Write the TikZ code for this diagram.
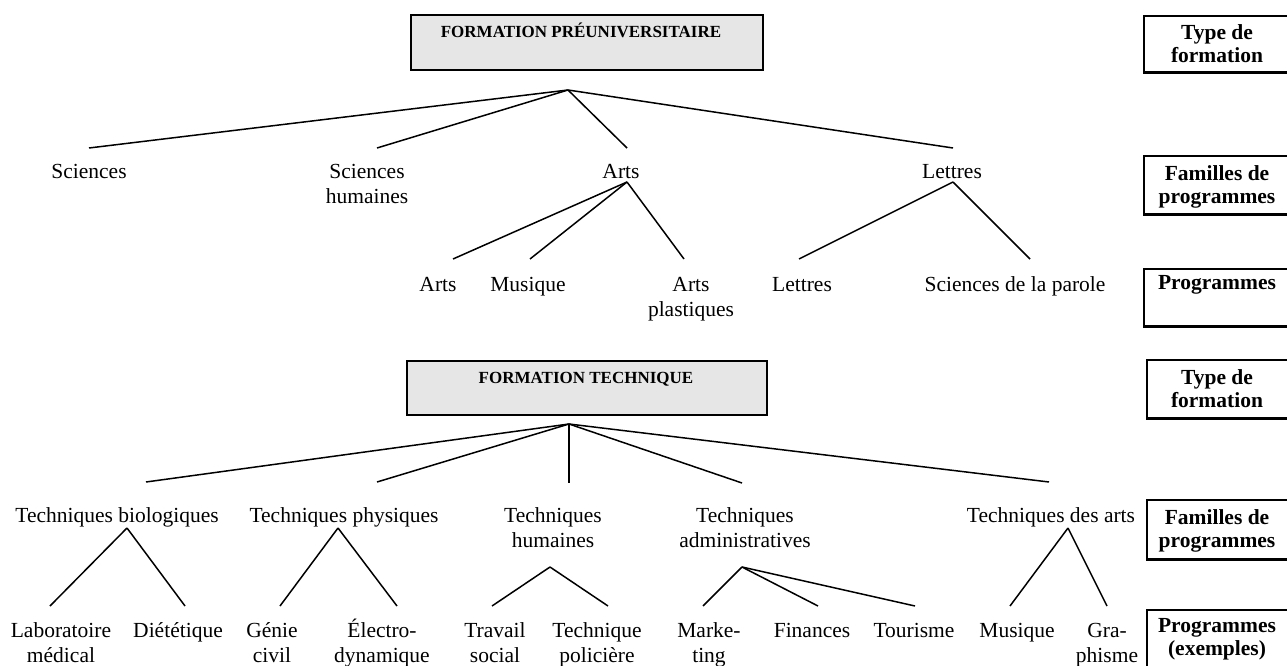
\documentclass[tikz,border=0pt]{standalone}
\usepackage{fontspec}
\setmainfont{Liberation Serif}
\definecolor{boxgray}{HTML}{E6E6E6}
\newcommand{\twoline}[2]{\begin{tabular}[t]{@{}c@{}}#1\\#2\end{tabular}}
\tikzset{
  lab/.style={anchor=base, inner sep=0pt, font=\fontsize{21.5}{25.5}\selectfont},
  head/.style={anchor=base, inner sep=0pt, font=\fontsize{17}{20}\selectfont\bfseries},
  sidelab/.style={anchor=base, inner sep=0pt, font=\fontsize{21.5}{23}\selectfont\bfseries},
  conn/.style={line width=1.5pt},
  graybox/.style={draw, line width=2pt, fill=boxgray, anchor=north west, inner sep=0pt},
  sidebox/.style={draw, line width=1.6pt, anchor=north west, inner sep=0pt, minimum width=148pt},
}
\begin{document}
\begin{tikzpicture}[x=1pt,y=-1pt]
\useasboundingbox (0,0) rectangle (1287,666);
\begin{scope}
\clip (0,0) rectangle (1287,666);
% ---------- gray title boxes ----------
\node[graybox, minimum width=352pt, minimum height=55pt] (preBox) at (410,14) {};
\node[head] (preTitle) at (581,38) {FORMATION PRÉUNIVERSITAIRE};
\node[graybox, minimum width=360pt, minimum height=54pt] (tecBox) at (406,360) {};
\node[head] (tecTitle) at (586,383) {FORMATION TECHNIQUE};
% ---------- side boxes ----------
\node[sidebox, minimum height=56pt] (sb1) at (1143,15) {};
\node[sidebox, minimum height=58pt] (sb2) at (1143,155) {};
\node[sidebox, minimum height=57pt] (sb3) at (1143,268) {};
\node[sidebox, minimum height=58pt] (sb4) at (1146,359) {};
\node[sidebox, minimum height=59pt] (sb5) at (1146,499) {};
\node[sidebox, minimum height=58pt] (sb6) at (1146,609) {};
\foreach \b in {sb1,sb2,sb3,sb4,sb5,sb6}
  \draw[line width=2.8pt] (\b.south west) -- (\b.south east);
\end{scope}
\node[sidelab] (sl1) at (1217,40) {\twoline{Type de}{formation}};
\node[sidelab] (sl2) at (1217,180) {\twoline{Familles de}{programmes}};
\node[sidelab] (sl3) at (1217,289) {Programmes};
\node[sidelab] (sl4) at (1217,384) {\twoline{Type de}{formation}};
\node[sidelab] (sl5) at (1217,524) {\twoline{Familles de}{programmes}};
\node[sidelab] (sl6) at (1217,632) {\twoline{Programmes}{(exemples)}};
% ---------- top tree ----------
\node[lab] (sci) at (89,178) {Sciences};
\node[lab] (sh) at (367,178) {\twoline{Sciences}{humaines}};
\node[lab] (arts) at (621,178) {Arts};
\node[lab] (let) at (952,178) {Lettres};
\node[lab] (pArts) at (438,291) {Arts};
\node[lab] (pMus) at (528,291) {Musique};
\node[lab] (pAP) at (691,291) {\twoline{Arts}{plastiques}};
\node[lab] (pLet) at (802,291) {Lettres};
\node[lab] (pSdlp) at (1015,291) {Sciences de la parole};
\coordinate (preApex) at (568,90);
\coordinate (eSci) at (89,148);
\coordinate (eSH) at (377,148);
\coordinate (eArts) at (627,148);
\coordinate (eLet) at (953,148);
\coordinate (artsApex) at (627,182);
\coordinate (fArts) at (453,259);
\coordinate (fMus) at (530,259);
\coordinate (fAP) at (684,259);
\coordinate (letApex) at (953,182);
\coordinate (fLet) at (799,259);
\coordinate (fSdlp) at (1030,259);
\draw[conn] (preApex) -- (eSci);
\draw[conn] (preApex) -- (eSH);
\draw[conn] (preApex) -- (eArts);
\draw[conn] (preApex) -- (eLet);
\draw[conn] (artsApex) -- (fArts);
\draw[conn] (artsApex) -- (fMus);
\draw[conn] (artsApex) -- (fAP);
\draw[conn] (letApex) -- (fLet);
\draw[conn] (letApex) -- (fSdlp);
% ---------- bottom tree ----------
\node[lab] (tb) at (117,522) {Techniques biologiques};
\node[lab] (tp) at (344,522) {Techniques physiques};
\node[lab] (th) at (553,522) {\twoline{Techniques}{humaines}};
\node[lab] (ta) at (745,522) {\twoline{Techniques}{administratives}};
\node[lab] (tda) at (1051,522) {Techniques des arts};
\node[lab] (pLab) at (61,637) {\twoline{Laboratoire}{médical}};
\node[lab] (pDiet) at (178,637) {Diététique};
\node[lab] (pGen) at (272,637) {\twoline{Génie}{civil}};
\node[lab] (pElec) at (382,637) {\twoline{Électro-}{dynamique}};
\node[lab] (pTrav) at (495,637) {\twoline{Travail}{social}};
\node[lab] (pTpol) at (597,637) {\twoline{Technique}{policière}};
\node[lab] (pMark) at (709,637) {\twoline{Marke-}{ting}};
\node[lab] (pFin) at (812,637) {Finances};
\node[lab] (pTour) at (914,637) {Tourisme};
\node[lab] (pMus2) at (1017,637) {Musique};
\node[lab] (pGra) at (1107,637) {\twoline{Gra-}{phisme}};
\coordinate (tecApex) at (569,424);
\coordinate (eTB) at (146,482);
\coordinate (eTP) at (377,482);
\coordinate (eTH) at (569,483);
\coordinate (eTA) at (742,483);
\coordinate (eTdA) at (1049,482);
\coordinate (tbApex) at (127,528);
\coordinate (fLab) at (50,606);
\coordinate (fDiet) at (185,606);
\coordinate (tpApex) at (338,528);
\coordinate (fGen) at (280,606);
\coordinate (fElec) at (397,606);
\coordinate (thApex) at (550,567);
\coordinate (fTrav) at (492,606);
\coordinate (fTpol) at (608,606);
\coordinate (taApex) at (742,567);
\coordinate (fMark) at (703,606);
\coordinate (fFin) at (818,606);
\coordinate (fTour) at (915,606);
\coordinate (tdaApex) at (1068,528);
\coordinate (fMus2) at (1010,606);
\coordinate (fGra) at (1107,606);
\draw[conn] (tecApex) -- (eTB);
\draw[conn] (tecApex) -- (eTP);
\draw[conn] (tecApex) -- (eTH);
\draw[conn] (tecApex) -- (eTA);
\draw[conn] (tecApex) -- (eTdA);
\draw[conn] (tbApex) -- (fLab);
\draw[conn] (tbApex) -- (fDiet);
\draw[conn] (tpApex) -- (fGen);
\draw[conn] (tpApex) -- (fElec);
\draw[conn] (thApex) -- (fTrav);
\draw[conn] (thApex) -- (fTpol);
\draw[conn] (taApex) -- (fMark);
\draw[conn] (taApex) -- (fFin);
\draw[conn] (taApex) -- (fTour);
\draw[conn] (tdaApex) -- (fMus2);
\draw[conn] (tdaApex) -- (fGra);
\end{tikzpicture}
\end{document}
